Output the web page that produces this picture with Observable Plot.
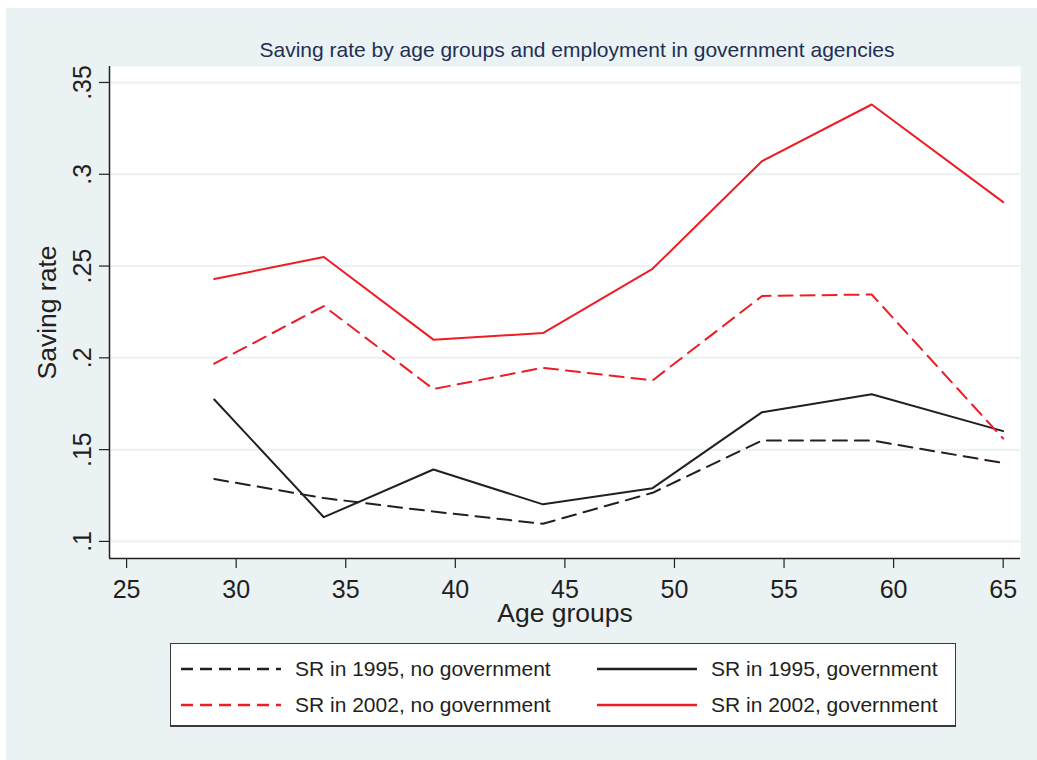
<!DOCTYPE html>
<html>
<head>
<meta charset="utf-8">
<script src="https://cdn.jsdelivr.net/npm/d3@7"></script>
<script src="https://cdn.jsdelivr.net/npm/@observablehq/plot@0.6"></script>
<style>
  html, body { margin: 0; padding: 0; background: #ffffff; }
  body { width: 1037px; height: 760px; position: relative; overflow: hidden; font-family: "Liberation Sans", Arial, sans-serif; }
  #bg { position: absolute; left: 6px; top: 8px; width: 1031px; height: 752px; background: #eaf2f3; }
  #title { position: absolute; left: 377px; width: 400px; top: 37px; text-align: center; white-space: nowrap; font-size: 21px; color: #1f2f55; line-height: 26px; }
  #title span { display: inline-block; transform: translateX(-50%); position: relative; left: 200px; }
  #chart { position: absolute; left: 0; top: 60px; }
  #legend { position: absolute; left: 170px; top: 643px; width: 786px; height: 84px; background: #fff; border: 1px solid #3a3a3a; border-bottom-width: 2px; box-sizing: border-box; }
  .item { position: absolute; height: 30px; display: flex; align-items: center; font-size: 21px; color: #231f20; white-space: nowrap; }
  .item svg { margin-right: 14px; }
</style>
</head>
<body>
<div id="bg"></div>
<div id="title"></div>
<div id="chart"></div>
<div id="legend"></div>
<script>
// ---- data ----
const titleText = "Saving rate by age groups and employment in government agencies";
const ageGroups = [29, 34, 39, 44, 49, 54, 59, 65];
const sr1995NoGov = [0.134, 0.1236, 0.1163, 0.1096, 0.1265, 0.155, 0.155, 0.1427];
const sr1995Gov   = [0.1773, 0.1132, 0.1392, 0.1202, 0.129, 0.1704, 0.1802, 0.1601];
const sr2002NoGov = [0.1968, 0.2282, 0.183, 0.1946, 0.1877, 0.2337, 0.2345, 0.156];
const sr2002Gov   = [0.2429, 0.2549, 0.2099, 0.2135, 0.2485, 0.3072, 0.338, 0.2848];
const xTicks = [25, 30, 35, 40, 45, 50, 55, 60, 65];
const yTicks = [0.1, 0.15, 0.2, 0.25, 0.3, 0.35];
const yTickLabels = [".1", ".15", ".2", ".25", ".3", ".35"];
const seriesNames = ["SR in 1995, no government", "SR in 1995, government", "SR in 2002, no government", "SR in 2002, government"];
const seriesValues = [sr1995NoGov, sr1995Gov, sr2002NoGov, sr2002Gov];
const seriesColors = ["#231f20", "#231f20", "#ee1c25", "#ee1c25"];
const seriesDash = ["14,8", null, "14,8", null];
const xLabel = "Age groups";
const yLabel = "Saving rate";

document.querySelector("#title").innerHTML = `<span>${titleText}</span>`;

const xDomain = [24.22, 65.79];
const yDomain = [0.0907, 0.3587];
const ink = "#231f20";

const lineMarks = seriesValues.map((vals, i) =>
  Plot.line(ageGroups.map((a, j) => ({age: a, rate: vals[j]})), {
    x: "age", y: "rate", stroke: seriesColors[i], strokeWidth: 2,
    strokeDasharray: seriesDash[i] ?? undefined, strokeLinejoin: "miter"
  })
);

const chart = Plot.plot({
  width: 1037,
  height: 580,
  marginLeft: 109,
  marginRight: 17,
  marginTop: 6,
  marginBottom: 82,
  style: {background: "transparent", fontFamily: "'Liberation Sans', Arial, sans-serif", color: ink},
  x: {domain: xDomain},
  y: {domain: yDomain},
  marks: [
    Plot.frame({fill: "white", stroke: null}),
    Plot.ruleY(yTicks, {stroke: "#eaf2f3", strokeWidth: 2}),
    ...lineMarks,
    Plot.ruleX([xDomain[0]], {stroke: ink, strokeWidth: 1.5}),
    Plot.ruleY([yDomain[0]], {stroke: ink, strokeWidth: 1.5}),
    Plot.axisX({ticks: xTicks, tickSize: 10, tickPadding: 12, fontSize: 25, label: null, stroke: ink, fill: ink, strokeWidth: 1.2}),
    Plot.axisY({ticks: yTicks, tickFormat: (d) => yTickLabels[yTicks.indexOf(d)] ?? d, tickRotate: -90, tickSize: 10, tickPadding: 9, fontSize: 25, label: null, stroke: ink, fill: ink, strokeWidth: 1.2}),
    Plot.text([xLabel], {frameAnchor: "bottom", textAnchor: "middle", dy: 63, lineAnchor: "bottom", fontSize: 26.5, fill: ink}),
    Plot.text([yLabel], {frameAnchor: "left", textAnchor: "middle", rotate: -90, dx: -54, lineAnchor: "bottom", fontSize: 26.5, fill: ink})
  ]
});
document.querySelector("#chart").append(chart);

// ---- legend ----
const legend = document.querySelector("#legend");
const positions = [[10, 10], [426, 10], [10, 46], [426, 46]];
seriesNames.forEach((name, i) => {
  const div = document.createElement("div");
  div.className = "item";
  div.style.left = positions[i][0] + "px";
  div.style.top = positions[i][1] + "px";
  const dash = seriesDash[i] ? `stroke-dasharray="12,7"` : "";
  div.innerHTML = `<svg width="100" height="4"><line x1="0" x2="100" y1="2" y2="2" stroke="${seriesColors[i]}" stroke-width="2.5" ${dash}/></svg><span>${name}</span>`;
  legend.append(div);
});
</script>
</body>
</html>
